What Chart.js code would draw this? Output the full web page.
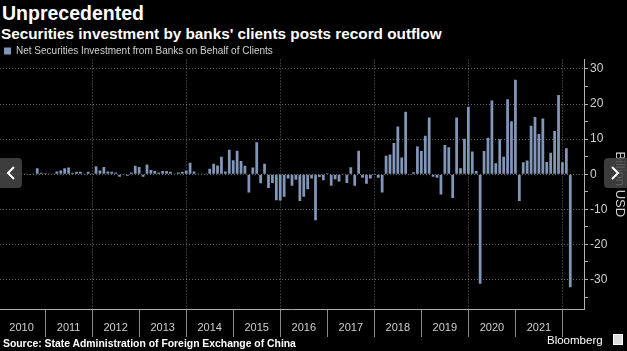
<!DOCTYPE html>
<html>
<head>
<meta charset="utf-8">
<title>Unprecedented</title>
<style>
  body { margin: 0; background: #000; width: 627px; height: 351px; overflow: hidden; position: relative; font-family: "Liberation Sans", Arial, sans-serif; }
  #title { position: absolute; left: 2px; top: 2px; color: #fff; font-weight: bold; font-size: 19.5px; line-height: 22px; }
  #subtitle { position: absolute; left: 1px; top: 25px; color: #fff; font-weight: bold; font-size: 15.3px; line-height: 18px; }
  #box { position: absolute; left: 0; top: 0; width: 627px; height: 351px; }
  #source { position: absolute; left: 3px; top: 338px; color: #fff; font-weight: bold; font-size: 10.4px; line-height: 12px; }
  #brand { position: absolute; left: 547px; top: 333px; color: #fff; font-size: 11.5px; line-height: 14px; }
  #brand .icon { display: inline-block; width: 8px; height: 9px; background: #ddd; border: 1px solid #fff; margin-left: 10px; vertical-align: -1px; }
  .nav { position: absolute; top: 158px; height: 30px; background: rgba(70, 70, 70, 0.85); }
  .nav.left { left: 0; width: 22px; border-radius: 0 4px 4px 0; }
  .nav.right { left: 604px; width: 23px; border-radius: 4px 0 0 4px; }
  .nav svg { position: absolute; left: 6px; top: 8px; }
</style>
</head>
<body>
<div id="title">Unprecedented</div>
<div id="subtitle">Securities investment by banks' clients posts record outflow</div>
<div id="box"><canvas id="chart"></canvas></div>
<div id="source">Source: State Administration of Foreign Exchange of China</div>
<div id="brand">Bloomberg<span class="icon"></span></div>
<div class="nav left"><svg width="10" height="14"><polyline points="8,1 2,7 8,13" fill="none" stroke="#fff" stroke-width="2"/></svg></div>
<div class="nav right"><svg width="10" height="14"><polyline points="2,1 8,7 2,13" fill="none" stroke="#fff" stroke-width="2"/></svg></div>
<script src="https://cdn.jsdelivr.net/npm/chart.js"></script>
<script>
// net securities investment from banks on behalf of clients, billion USD, monthly
const years = ["2010", "2011", "2012", "2013", "2014", "2015", "2016", "2017", "2018", "2019", "2020", "2021", "2022"];
const monthNames = ["Jan", "Feb", "Mar", "Apr", "May", "Jun", "Jul", "Aug", "Sep", "Oct", "Nov", "Dec"];
const netInvestment = [
  0.3, 0.2, 0.4, 0.3, 0.2, 0.2, 0.1, -0.2, 0.2, 1.7, 0.4, 0.3,        // 2010
  0.1, 0.1, 0.8, 1.1, 1.7, 1.9, 0.4, 0.7, 0.7, 0.1, 0.7, 0.1,         // 2011
  2.3, 1.1, 2.1, 0.8, 0.7, 0.5, -0.7, -0.2, -0.4, 0.5, 2.4, 2.1,      // 2012
  -0.7, 2.8, 1.2, 0.9, 0.5, 0.9, 0.9, 0.7, 0.1, 0.5, 0.7, 1.1,        // 2013
  3.3, 0.8, 0.1, 0.1, 0.1, 1.6, 3.0, 2.5, 5.0, 0.8, 7.0, 4.0,         // 2014
  6.7, 3.8, 2.4, -5.2, 1.9, 9.1, -2.6, 3.0, -3.9, -2.5, -7.4, -7.5,   // 2015
  -6.4, -1.2, -3.3, -1.6, -7.6, -6.4, -4.3, -1.2, -13.1, -0.8, -1.7, 0.3, // 2016
  -3.3, -1.4, -2.1, 0.2, -2.5, 2.0, -3.3, 6.7, -1.0, -2.7, -1.2, -0.2, // 2017
  -1.0, -5.2, 5.3, 5.6, 8.9, 13.6, 4.8, 17.8, -0.2, 0.6, 7.9, 6.6,    // 2018
  11.0, 16.2, -0.7, -1.0, -5.8, 8.3, 7.7, -6.8, 16.2, 1.7, 10.1, 19.2, // 2019
  6.5, 0.9, -31.2, 6.6, 10.4, 21.0, 3.1, 10.0, 5.0, 21.4, 15.1, 26.9, // 2020
  -7.6, 3.4, 3.9, 13.8, 16.3, 11.5, 15.9, 3.5, 6.1, 12.3, 22.6, 3.4,  // 2021
  7.4, -32.2                                                          // 2022
];
const yTicks = [-30, -20, -10, 0, 10, 20, 30];

// months on the axis run to May 2022
const categories = [];
years.forEach(function (y) {
  monthNames.forEach(function (m) { categories.push(m + " " + y); });
});
categories.length = 149;
const values = categories.map(function (c, i) { return i < netInvestment.length ? netInvestment[i] : null; });

const barColor = "#8196b8";
const gridColor = "rgba(190,190,190,0.55)";

// legend sits closer to the plot than chart.js leaves by default
const legendGap = {
  id: "legendGap",
  afterInit: function (chart) {
    const legend = chart.legend;
    const fit = legend.fit;
    legend.fit = function () {
      fit.call(this);
      this.height -= 6.5;
    };
  }
};

new Chart(document.getElementById("chart"), {
  type: "bar",
  data: {
    labels: categories,
    datasets: [{
      label: "Net Securities Investment from Banks on Behalf of Clients",
      data: values,
      backgroundColor: barColor,
      barPercentage: 0.7,
      categoryPercentage: 1
    }]
  },
  plugins: [legendGap],
  options: {
    responsive: true,
    maintainAspectRatio: false,
    animation: false,
    layout: { padding: { top: 42, bottom: 7, left: 0, right: 0 } },
    plugins: {
      tooltip: { enabled: false },
      legend: {
        position: "top",
        align: "start",
        labels: {
          boxWidth: 7,
          boxHeight: 7,
          padding: 4,
          color: "#d0d0d0",
          font: { family: "'Liberation Sans', Arial, sans-serif", size: 10 }
        }
      }
    },
    scales: {
      x: {
        offset: true,
        grid: {
          offset: false,
          color: function (ctx) { return ctx.index % 24 === 23 ? gridColor : "transparent"; },
          tickColor: function (ctx) { return ctx.index % 12 === 11 ? "#8a8a8a" : "transparent"; },
          tickLength: 28
        },
        border: { color: "#b0b0b0", dash: [1, 2] },
        ticks: {
          autoSkip: false,
          maxRotation: 0,
          minRotation: 0,
          padding: -16,
          color: "#d0d0d0",
          font: { family: "'Liberation Sans', Arial, sans-serif", size: 11 },
          callback: function (v, i) {
            return (i % 12 === 5 && i < 144) ? years[Math.floor(i / 12)] : "";
          }
        },
        afterFit: function (scale) { scale.height = 35; }
      },
      y: {
        position: "right",
        min: -38.4,
        max: 32.7,
        grid: {
          color: function (ctx) { return yTicks.indexOf(ctx.tick.value) >= 0 ? gridColor : "transparent"; },
          tickColor: function (ctx) { return ctx.tick.value % 5 === 0 ? "#b0b0b0" : "transparent"; },
          tickLength: 4
        },
        border: { color: "#b0b0b0", dash: [1, 2] },
        ticks: {
          stepSize: 5,
          includeBounds: false,
          padding: 2,
          color: "#d0d0d0",
          font: { family: "'Liberation Sans', Arial, sans-serif", size: 12 },
          callback: function (v) { return yTicks.indexOf(v) >= 0 ? String(v) : ""; }
        },
        title: {
          display: true,
          text: "Billion USD",
          color: "#d0d0d0",
          font: { family: "'Liberation Sans', Arial, sans-serif", size: 13 },
          padding: 0
        },
        afterFit: function (scale) { scale.width = 43; }
      }
    }
  }
});
</script>
</body>
</html>
